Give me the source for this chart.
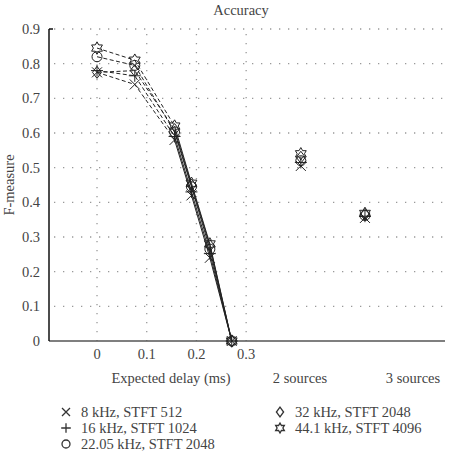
<!DOCTYPE html>
<html>
  <head>
    <meta charset="UTF-8" />
    <script src="https://d3js.org/d3.v7.min.js"></script>
    <style>
      body { margin: 0; background: #fff; }
    </style>
  </head>
  <body>
    <svg></svg>
    <script>
      // data
      const delays = [0, 0.076, 0.156, 0.19, 0.227, 0.271];
      const sourceLabels = ['2 sources', '3 sources'];
      const sourceX = [0.41, 0.539];
      const seriesNames = [
        '8 kHz, STFT 512',
        '16 kHz, STFT 1024',
        '22.05 kHz, STFT 2048',
        '32 kHz, STFT 2048',
        '44.1 kHz, STFT 4096'
      ];
      const markers = ['cross', 'plus', 'circle', 'diamond', 'hexagram'];
      const delayValues = [
        [0.775, 0.74, 0.58, 0.42, 0.24, 0],
        [0.78, 0.765, 0.59, 0.43, 0.252, 0],
        [0.82, 0.795, 0.603, 0.445, 0.265, 0],
        [0.775, 0.78, 0.61, 0.45, 0.275, 0],
        [0.845, 0.81, 0.62, 0.455, 0.28, 0]
      ];
      const sourceValues = [
        [0.505, 0.355],
        [0.515, 0.36],
        [0.52, 0.362],
        [0.53, 0.365],
        [0.54, 0.368]
      ];
      const yTicks = [0, 0.1, 0.2, 0.3, 0.4, 0.5, 0.6, 0.7, 0.8, 0.9];
      const xTicks = [0, 0.1, 0.2, 0.3];

      const width = 449;
      const height = 469;
      const margin = { top: 29, right: 4, bottom: 128, left: 49 };
      const font = '"Liberation Serif", "DejaVu Serif", serif';
      const textColor = '#444';
      const fs = 14.5;

      const svg = d3
        .select('svg')
        .attr('width', width)
        .attr('height', height)
        .style('font-family', font);

      const x = d3
        .scaleLinear()
        .domain([-0.1, 0.7])
        .range([margin.left - 1.7, width - margin.right]);
      const y = d3
        .scaleLinear()
        .domain([0, 0.9])
        .range([height - margin.bottom, margin.top]);

      // grid
      const grid = svg
        .append('g')
        .attr('stroke', '#999')
        .attr('stroke-width', 1.3)
        .attr('stroke-dasharray', '1.3,7.7');
      grid
        .selectAll('.hg')
        .data(yTicks.filter((d) => d > 0))
        .join('line')
        .attr('x1', margin.left + 5)
        .attr('x2', width - margin.right)
        .attr('y1', (d) => y(d))
        .attr('y2', (d) => y(d));
      grid
        .selectAll('.vg')
        .data(xTicks)
        .join('line')
        .attr('x1', (d) => x(d))
        .attr('x2', (d) => x(d))
        .attr('y1', y(0.9) + 5)
        .attr('y2', y(0));

      // axes
      svg
        .append('line')
        .attr('x1', margin.left)
        .attr('x2', width - margin.right)
        .attr('y1', y(0))
        .attr('y2', y(0))
        .attr('stroke', '#555')
        .attr('stroke-width', 1.5);
      svg
        .append('line')
        .attr('x1', margin.left)
        .attr('x2', margin.left)
        .attr('y1', y(0.9))
        .attr('y2', y(0))
        .attr('stroke', '#111')
        .attr('stroke-width', 1.5);
      svg
        .append('line')
        .attr('x1', margin.left)
        .attr('x2', margin.left + 4)
        .attr('y1', y(0.9))
        .attr('y2', y(0.9))
        .attr('stroke', '#111')
        .attr('stroke-width', 1.5);

      svg
        .append('g')
        .selectAll('text')
        .data(yTicks)
        .join('text')
        .attr('x', margin.left - 9)
        .attr('y', (d) => y(d))
        .attr('dy', '0.35em')
        .attr('text-anchor', 'end')
        .attr('font-size', fs)
        .attr('fill', textColor)
        .text((d) => (d === 0 ? '0' : d3.format('.1f')(d)));

      svg
        .append('g')
        .selectAll('text')
        .data(xTicks)
        .join('text')
        .attr('x', (d) => x(d))
        .attr('y', y(0) + 18)
        .attr('text-anchor', 'middle')
        .attr('font-size', fs)
        .attr('fill', textColor)
        .text((d) => (d === 0 ? '0' : d3.format('.1f')(d)));

      svg
        .append('text')
        .attr('x', 171)
        .attr('y', y(0) + 42)
        .attr('text-anchor', 'middle')
        .attr('font-size', fs)
        .attr('fill', textColor)
        .text('Expected delay (ms)');

      svg
        .append('g')
        .selectAll('text')
        .data(sourceLabels)
        .join('text')
        .attr('x', (d, i) => [300, 413][i])
        .attr('y', y(0) + 42)
        .attr('text-anchor', 'middle')
        .attr('font-size', fs)
        .attr('fill', textColor)
        .text((d) => d);

      svg
        .append('text')
        .attr('transform', `translate(14,${(y(0) + y(0.9)) / 2}) rotate(-90)`)
        .attr('text-anchor', 'middle')
        .attr('font-size', fs)
        .attr('fill', textColor)
        .text('F-measure');

      svg
        .append('text')
        .attr('x', 241)
        .attr('y', 15)
        .attr('text-anchor', 'middle')
        .attr('font-size', fs)
        .attr('fill', textColor)
        .text('Accuracy');

      // marker paths
      function markerPath(type, r) {
        const p = d3.path();
        if (type === 'cross') {
          p.moveTo(-r, -r); p.lineTo(r, r);
          p.moveTo(-r, r); p.lineTo(r, -r);
        } else if (type === 'plus') {
          p.moveTo(-r * 1.2, 0); p.lineTo(r * 1.2, 0);
          p.moveTo(0, -r * 1.2); p.lineTo(0, r * 1.2);
        } else if (type === 'circle') {
          p.moveTo(r, 0); p.arc(0, 0, r, 0, 2 * Math.PI);
        } else if (type === 'diamond') {
          p.moveTo(0, -r * 1.2); p.lineTo(r * 0.9, 0);
          p.lineTo(0, r * 1.2); p.lineTo(-r * 0.9, 0); p.closePath();
        } else {
          for (let i = 0; i < 12; i++) {
            const a = (i * Math.PI) / 6 - Math.PI / 2;
            const rr = i % 2 === 0 ? r * 1.25 : r * 0.72;
            if (i === 0) p.moveTo(rr * Math.cos(a), rr * Math.sin(a));
            else p.lineTo(rr * Math.cos(a), rr * Math.sin(a));
          }
          p.closePath();
        }
        return p.toString();
      }

      const line = d3
        .line()
        .x((d) => x(d[0]))
        .y((d) => y(d[1]));

      const plot = svg.append('g');
      delayValues.forEach((vals, s) => {
        const pts = vals.map((v, i) => [delays[i], v]);
        // dashed first part, solid after
        plot
          .append('path')
          .attr('d', line(pts.slice(0, 3)))
          .attr('fill', 'none')
          .attr('stroke', '#222')
          .attr('stroke-width', 1)
          .attr('stroke-dasharray', '4,2.5');
        plot
          .append('path')
          .attr('d', line(pts.slice(2)))
          .attr('fill', 'none')
          .attr('stroke', '#222')
          .attr('stroke-width', 1);
      });

      delayValues.forEach((vals, s) => {
        const pts = vals
          .map((v, i) => [delays[i], v])
          .concat(sourceValues[s].map((v, i) => [sourceX[i], v]));
        plot
          .append('g')
          .selectAll('path')
          .data(pts)
          .join('path')
          .attr('transform', (d) => `translate(${x(d[0])},${y(d[1])})`)
          .attr('d', markerPath(markers[s], 5))
          .attr('fill', 'none')
          .attr('stroke', '#222')
          .attr('stroke-width', 1);
      });

      // legend
      const legendPos = [
        [66, 412],
        [66, 428],
        [66, 444],
        [280, 412],
        [280, 428]
      ];
      const legend = svg
        .append('g')
        .selectAll('g')
        .data(seriesNames)
        .join('g')
        .attr('transform', (d, i) => `translate(${legendPos[i][0]},${legendPos[i][1]})`);
      legend
        .append('path')
        .attr('d', (d, i) => markerPath(markers[i], 4))
        .attr('fill', 'none')
        .attr('stroke', '#333')
        .attr('stroke-width', 1.3);
      legend
        .append('text')
        .attr('x', 15)
        .attr('dy', '0.35em')
        .attr('font-size', fs)
        .attr('fill', textColor)
        .text((d) => d);
    </script>
  </body>
</html>
